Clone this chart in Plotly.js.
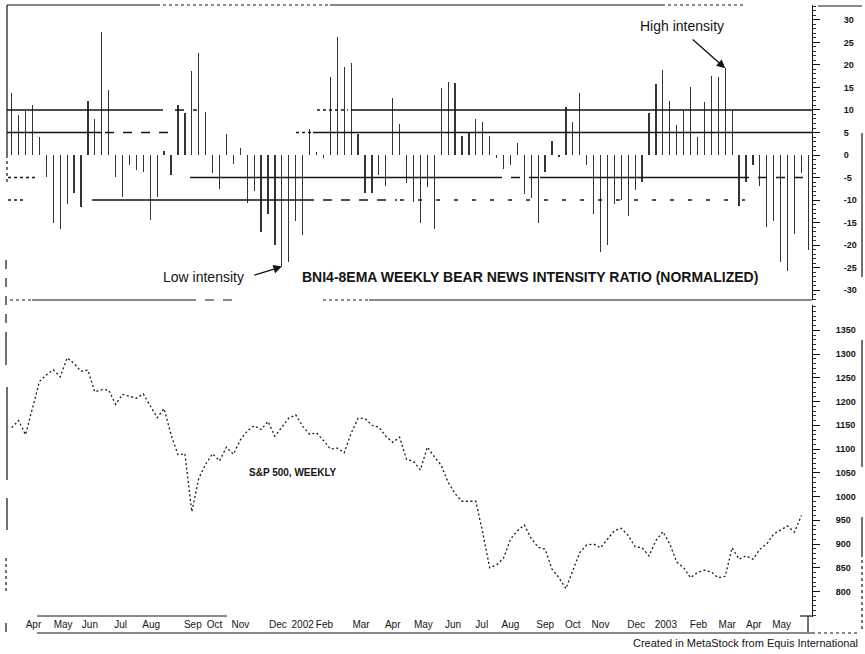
<!DOCTYPE html>
<html><head><meta charset="utf-8">
<script src="https://cdn.plot.ly/plotly-3.0.1.min.js"></script>
<style>html,body{margin:0;padding:0;background:#fff;} #chart{width:865px;height:654px;}</style>
</head><body><div id="chart"></div>
<script>
// ---------- DATA ----------
const weeks = [
 '2001-03-23','2001-03-30','2001-04-06','2001-04-13','2001-04-20','2001-04-27','2001-05-04','2001-05-11','2001-05-18','2001-05-25',
 '2001-06-01','2001-06-08','2001-06-15','2001-06-22','2001-06-29','2001-07-06','2001-07-13','2001-07-20','2001-07-27','2001-08-03',
 '2001-08-10','2001-08-17','2001-08-24','2001-08-31','2001-09-07','2001-09-14','2001-09-21','2001-09-28','2001-10-05','2001-10-12',
 '2001-10-19','2001-10-26','2001-11-02','2001-11-09','2001-11-16','2001-11-23','2001-11-30','2001-12-07','2001-12-14','2001-12-21',
 '2001-12-28','2002-01-04','2002-01-11','2002-01-18','2002-01-25','2002-02-01','2002-02-08','2002-02-15','2002-02-22','2002-03-01',
 '2002-03-08','2002-03-15','2002-03-22','2002-03-29','2002-04-05','2002-04-12','2002-04-19','2002-04-26','2002-05-03','2002-05-10',
 '2002-05-17','2002-05-24','2002-05-31','2002-06-07','2002-06-14','2002-06-21','2002-06-28','2002-07-05','2002-07-12','2002-07-19',
 '2002-07-26','2002-08-02','2002-08-09','2002-08-16','2002-08-23','2002-08-30','2002-09-06','2002-09-13','2002-09-20','2002-09-27',
 '2002-10-04','2002-10-11','2002-10-18','2002-10-25','2002-11-01','2002-11-08','2002-11-15','2002-11-22','2002-11-29','2002-12-06',
 '2002-12-13','2002-12-20','2002-12-27','2003-01-03','2003-01-10','2003-01-17','2003-01-24','2003-01-31','2003-02-07','2003-02-14',
 '2003-02-21','2003-02-28','2003-03-07','2003-03-14','2003-03-21','2003-03-28','2003-04-04','2003-04-11','2003-04-18','2003-04-25',
 '2003-05-02','2003-05-09','2003-05-16','2003-05-23','2003-05-30','2003-06-06'
];

// BNI4-8EMA weekly bear news intensity ratio (normalized)
const bearIntensity = [
 13.8, 8.9, 9.8, 11.1, 3.9, -4.8, -15, -16.5, -10.9, -8.4,
 -11.6, 12, 8, 27.4, 14.4, -4.9, -9.3, -2.2, -3.3, -3.7,
 -14.4, -9.3, 1, -4.4, 11.1, 9.3, 18.7, 22.6, 9.6, -4.1,
 -7.6, 4.6, -1.9, 1.5, -10.7, -8.1, -17, -13, -20, -24.8,
 -23.7, -14.7, -17.8, 5.7, 0.7, -0.7, 17.4, 26.3, 19.6, 20.5,
 4.6, -8.5, -8.4, -4.4, -6.9, 12.6, 6.8, -6.3, -10.4, -15.2,
 -7, -16.4, 14.8, 16.3, 15.9, 4.3, 5, 8, 7.4, 4.2,
 -0.7, -3, -2.2, 2.6, -8.7, -9.6, -15, -3.7, 3.1, -0.4,
 10.6, 7.4, 13.8, -2.2, -13, -21.5, -19.9, -10.9, -10, -13.6,
 -7.8, -6.1, 9.3, 15.7, 18.9, 12, 6.7, 9.9, 15.2, 3.9,
 11.7, 17.6, 17.4, 19.3, 9.9, -11.3, -5.9, -2.2, -6.9, -16.1,
 -14.7, -23.7, -25.7, -17.6, -3.9, -21
];

// S&P 500 weekly close
const spxClose = [
 1145, 1160, 1130, 1188, 1242, 1256, 1267, 1252, 1292, 1280,
 1264, 1266, 1220, 1225, 1224, 1194, 1215, 1211, 1207, 1216,
 1192, 1166, 1185, 1130, 1088, 1090, 968, 1038, 1068, 1090,
 1075, 1104, 1089, 1119, 1138, 1149, 1141, 1158, 1127, 1146,
 1165, 1172, 1148, 1131, 1134, 1118, 1100, 1102, 1092, 1133,
 1165, 1164, 1150, 1146, 1127, 1114, 1125, 1078, 1074, 1056,
 1104, 1084, 1066, 1030, 1006, 990, 990, 990, 924, 850,
 856, 870, 910, 928, 940, 912, 893, 889, 847, 829,
 806, 843, 882, 898, 900, 892, 910, 928, 933, 918,
 894, 892, 875, 907, 926, 900, 862, 850, 829, 840,
 845, 841, 829, 832, 892, 868, 875, 868, 889, 900,
 921, 930, 938, 925, 960
];

const intensityTicks = [-30, -25, -20, -15, -10, -5, 0, 5, 10, 15, 20, 25, 30];
const intensityTickText = ['-30', '-25', '-20', '-15', '-10', '-5', '0', '5', '10', '15', '20', '25', '30'];
const spxTicks = [800, 850, 900, 950, 1000, 1050, 1100, 1150, 1200, 1250, 1300, 1350];
const spxTickText = ['800', '850', '900', '950', '1000', '1050', '1100', '1150', '1200', '1250', '1300', '1350'];
const monthTickDates = [
 '2001-04-14','2001-05-14','2001-06-10','2001-07-11','2001-08-11','2001-09-22','2001-10-14','2001-11-09','2001-12-17',
 '2002-01-11','2002-02-02','2002-03-11','2002-04-12','2002-05-13','2002-06-12','2002-07-11','2002-08-09','2002-09-13',
 '2002-10-11','2002-11-08','2002-12-14','2003-01-13','2003-02-15','2003-03-16','2003-04-12','2003-05-10'
];
const monthTickText = ['Apr','May','Jun','Jul','Aug','Sep','Oct','Nov','Dec','2002','Feb','Mar','Apr','May','Jun','Jul','Aug','Sep','Oct','Nov','Dec','2003','Feb','Mar','Apr','May'];
const refLevels = [10, 5, -5, -10];

// ---------- LAYOUT HELPERS ----------
const W = 865, H = 654, ML = 7, MR = 53;
const px = p => (p - ML) / (W - ML - MR);
const py = p => 1 - p / H;
const FONT = 'Liberation Sans, Arial, sans-serif';
const INK = '#141414';

const shapes = [];
function seg(x0, x1, y0, y1, dash, w, yref) {
  shapes.push({
    type: 'line', xref: 'paper', yref: yref || 'paper',
    x0: px(x0), x1: px(x1),
    y0: yref ? y0 : py(y0), y1: yref ? y1 : py(y1),
    line: {color: INK, width: w || 1.2, dash: dash || 'solid'}
  });
}

// reference levels (scan-broken horizontal lines)
const refSegments = {
  '10': [[7,163,'solid'],[175,197,'dash'],[317,348,'dot'],[351,812,'solid']],
  '5': [[7,102,'solid'],[105,175,'dash'],[296,312,'dot'],[313,812,'solid']],
  '-5': [[8,36,'dot'],[190,493,'solid'],[493,540,'dash'],[540,740,'solid'],[740,812,'dash']],
  '-10': [[8,26,'dot'],[92,305,'solid'],[305,397,'dash'],[400,745,'4px,14px']]
};
refLevels.forEach(lv => {
  refSegments[String(lv)].forEach(s => seg(s[0], s[1], lv, lv, s[2], 1.4, 'y'));
});

// frame pieces
seg(7, 157, 5, 5); seg(157, 330, 5, 5, 'dot'); seg(330, 662, 5, 5); seg(662, 745, 5, 5, 'dot'); seg(818, 862, 6, 6);
seg(10, 32, 300, 300, 'dot'); seg(32, 187, 300, 300); seg(187, 233, 300, 300, 'dash'); seg(323, 369, 300, 300, 'dot'); seg(369, 812, 300, 300);
seg(7, 7, 5, 155); seg(7, 7, 155, 182, 'dot'); seg(6, 6, 260, 333, 'dash');
seg(6, 6, 333, 365); seg(7, 7, 387, 480); seg(7, 7, 498, 530); seg(6, 6, 558, 593, 'dot'); seg(6, 6, 623, 632);
seg(862, 862, 133, 277); seg(862, 862, 340, 467); seg(862, 862, 517, 557); seg(862, 862, 560, 630, 'dot');
seg(37, 227, 616, 616); seg(800, 812, 616, 616); seg(808, 808, 616, 632);
seg(37, 812, 633, 633); seg(812, 860, 633, 633, 'dot');

// ---------- TRACES ----------
const bars = {
  type: 'bar', x: weeks, y: bearIntensity, xaxis: 'x', yaxis: 'y',
  width: 1.25 * 86400000,
  marker: {color: '#333333', line: {width: 0}},
  hoverinfo: 'skip'
};
const spx = {
  type: 'scatter', mode: 'lines', x: weeks.slice(0, spxClose.length), y: spxClose,
  xaxis: 'x', yaxis: 'y2',
  line: {color: '#1a1a1a', width: 1.3, dash: '2px,2.5px'},
  hoverinfo: 'skip'
};

const hiIdx = bearIntensity.indexOf(Math.max(...bearIntensity.slice(90)), 90);
const loIdx = 39;

const layout = {
  width: W, height: H,
  margin: {l: ML, r: MR, t: 0, b: 0, pad: 0},
  paper_bgcolor: '#fff', plot_bgcolor: '#fff',
  showlegend: false,
  bargap: 0,
  xaxis: {
    type: 'date', anchor: 'y2', domain: [0, 1],
    range: ['2001-03-18 06:00', '2003-06-09 17:00'],
    tickvals: monthTickDates, ticktext: monthTickText, tickangle: 0,
    ticks: '', showline: false, showgrid: false, zeroline: false,
    tickfont: {family: FONT, size: 10, color: INK}
  },
  yaxis: {
    domain: [py(300), py(5)], range: [-32.22, 33.33], anchor: 'x', side: 'right',
    tickvals: intensityTicks, ticktext: intensityTickText,
    showline: true, linecolor: INK, linewidth: 1,
    ticks: 'outside', ticklen: 7, tickcolor: INK, tickwidth: 1,
    minor: {ticks: 'outside', ticklen: 3, dtick: 1, tick0: 0, tickcolor: '#333', tickwidth: 1, showgrid: false},
    ticklabelstandoff: 22,
    showgrid: false, zeroline: false,
    tickfont: {family: FONT, size: 9, color: INK, weight: 'bold'}
  },
  yaxis2: {
    domain: [py(617), py(305)], range: [746.3, 1403.2], anchor: 'x', side: 'right',
    tickvals: spxTicks, ticktext: spxTickText,
    showline: true, linecolor: INK, linewidth: 1,
    ticks: 'outside', ticklen: 7, tickcolor: INK, tickwidth: 1,
    minor: {ticks: 'outside', ticklen: 3, dtick: 10, tick0: 0, tickcolor: '#333', tickwidth: 1, showgrid: false},
    ticklabelstandoff: 14,
    showgrid: false, zeroline: false,
    tickfont: {family: FONT, size: 9, color: INK, weight: 'bold'}
  },
  shapes: shapes,
  annotations: [
    {xref: 'paper', yref: 'paper', x: px(530), y: py(277), xanchor: 'center', yanchor: 'middle', showarrow: false,
     text: '<b>BNI4-8EMA WEEKLY BEAR NEWS INTENSITY RATIO (NORMALIZED)</b>', font: {family: FONT, size: 14, color: INK}},
    {xref: 'paper', yref: 'paper', x: px(203), y: py(277), xanchor: 'center', yanchor: 'middle', showarrow: false,
     text: 'Low intensity', font: {family: FONT, size: 14, color: INK}},
    {xref: 'paper', yref: 'paper', x: px(682), y: py(26), xanchor: 'center', yanchor: 'middle', showarrow: false,
     text: 'High intensity', font: {family: FONT, size: 14, color: INK}},
    {xref: 'x', yref: 'y', x: weeks[hiIdx], y: bearIntensity[hiIdx], ax: -34, ay: -30, text: '',
     showarrow: true, arrowhead: 2, arrowsize: 1.3, arrowwidth: 1.3, arrowcolor: INK, standoff: 0},
    {xref: 'x', yref: 'y', x: weeks[loIdx], y: bearIntensity[loIdx], ax: -29, ay: 9, text: '',
     showarrow: true, arrowhead: 2, arrowsize: 1.3, arrowwidth: 1.3, arrowcolor: INK, standoff: 0},
    {xref: 'paper', yref: 'paper', x: px(293), y: py(472), xanchor: 'center', yanchor: 'middle', showarrow: false,
     text: '<b>S&amp;P 500, WEEKLY</b>', font: {family: FONT, size: 10, color: INK}},
    {xref: 'paper', yref: 'paper', x: px(860), y: py(643), xanchor: 'right', yanchor: 'middle', showarrow: false,
     text: 'Created in MetaStock from Equis International', font: {family: FONT, size: 11, color: INK}}
  ]
};

Plotly.newPlot('chart', [bars, spx], layout, {displayModeBar: false, staticPlot: true});
</script>
</body></html>
